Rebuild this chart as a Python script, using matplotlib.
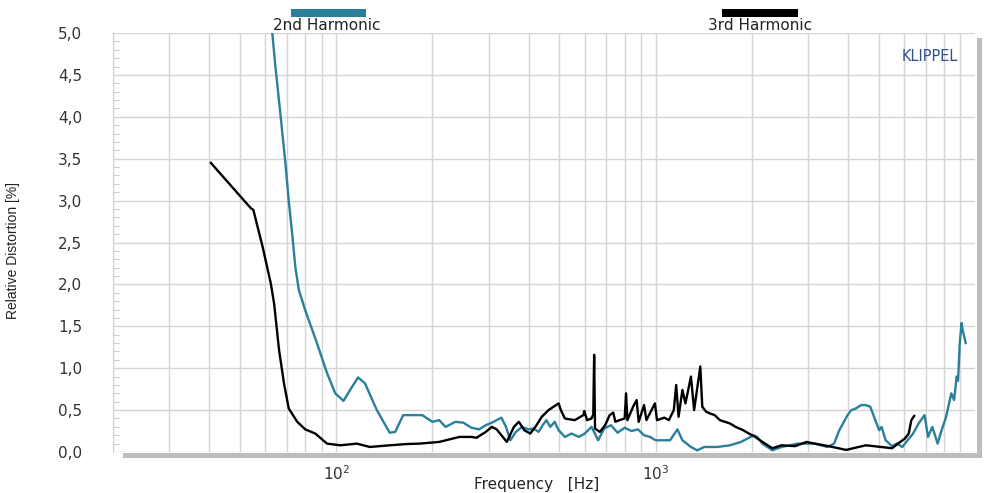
import matplotlib
matplotlib.use("Agg")
import matplotlib.pyplot as plt
from matplotlib.patches import Rectangle
from matplotlib.ticker import FixedLocator, FuncFormatter

# 2nd harmonic (teal) - frequency [Hz], relative distortion [%]
f2 = [62, 64.5, 67, 69.5, 71, 72.8, 74.5, 76.4, 80, 87, 93.6, 99.3, 105.4, 110.5, 117, 123,
      134, 147, 153, 162, 186, 200, 210, 220, 236, 250, 265, 280, 294, 307, 329, 340, 351,
      365, 382, 400, 415, 430, 443, 455, 468, 483, 497, 520, 545, 575, 600, 630, 661, 690,
      725, 760, 800, 840, 880, 920, 960, 1000, 1110, 1170, 1213, 1290, 1350, 1420, 1560,
      1710, 1850, 2030, 2080, 2160, 2320, 2480, 2780, 3150, 3450, 3620, 3760, 3990, 4100,
      4240, 4400, 4550, 4700, 4830, 5010, 5100, 5250, 5500, 5700, 5920, 6150, 6400, 6660,
      6950, 7130, 7350, 7640, 7800, 8120, 8430, 8600, 8760, 8850, 8960, 9080, 9150, 9250, 9350]
v2 = [5.3, 4.6, 4.0, 3.4, 3.0, 2.6, 2.2, 1.93, 1.69, 1.30, 0.94, 0.70, 0.61, 0.74, 0.89, 0.82,
      0.50, 0.23, 0.24, 0.44, 0.44, 0.36, 0.38, 0.30, 0.36, 0.35, 0.29, 0.27, 0.32, 0.35, 0.41,
      0.30, 0.14, 0.24, 0.30, 0.27, 0.28, 0.24, 0.32, 0.38, 0.30, 0.36, 0.26, 0.18, 0.22, 0.18,
      0.22, 0.30, 0.14, 0.28, 0.32, 0.23, 0.29, 0.25, 0.27, 0.20, 0.18, 0.14, 0.14, 0.27, 0.14,
      0.06, 0.02, 0.06, 0.06, 0.08, 0.12, 0.20, 0.18, 0.10, 0.02, 0.06, 0.10, 0.10, 0.06, 0.10,
      0.26, 0.44, 0.50, 0.52, 0.56, 0.56, 0.54, 0.42, 0.26, 0.30, 0.14, 0.07, 0.10, 0.06, 0.14,
      0.22, 0.34, 0.44, 0.18, 0.30, 0.10, 0.22, 0.42, 0.70, 0.62, 0.90, 0.85, 1.30, 1.54, 1.45,
      1.38, 1.30]

# 3rd harmonic (black)
f3 = [40.5, 54, 55, 58.8, 62.4, 63.9, 66.2, 68.6, 71, 75.5, 80, 86, 93.6, 103, 116, 127.5,
      147, 166, 182, 210, 243, 265, 275, 294, 307, 318, 342, 360, 373, 388, 405, 422, 440,
      462, 479, 497, 505, 520, 558, 594, 598, 610, 630, 638, 642, 646, 669, 695, 718, 737,
      748, 770, 800, 808, 816, 850, 872, 885, 920, 936, 995, 1010, 1065, 1100, 1140, 1160,
      1180, 1213, 1240, 1290, 1320, 1380, 1400, 1440, 1480, 1530, 1590, 1650, 1710, 1780,
      1880, 1960, 2050, 2160, 2320, 2480, 2730, 2970, 3150, 3480, 3950, 4550, 5080, 5500,
      5740, 6030, 6200, 6320, 6450]
v3 = [3.45, 2.91, 2.89, 2.45, 2.01, 1.77, 1.22, 0.82, 0.52, 0.36, 0.27, 0.22, 0.10, 0.08,
      0.10, 0.06, 0.08, 0.095, 0.10, 0.12, 0.18, 0.18, 0.17, 0.24, 0.30, 0.27, 0.12, 0.30,
      0.36, 0.26, 0.22, 0.31, 0.42, 0.50, 0.54, 0.58, 0.50, 0.40, 0.38, 0.44, 0.49, 0.38,
      0.40, 0.45, 1.16, 0.28, 0.24, 0.32, 0.44, 0.47, 0.36, 0.38, 0.40, 0.70, 0.38, 0.54,
      0.62, 0.36, 0.56, 0.38, 0.58, 0.38, 0.41, 0.38, 0.50, 0.80, 0.42, 0.74, 0.58, 0.90,
      0.50, 1.02, 0.54, 0.48, 0.46, 0.44, 0.38, 0.36, 0.34, 0.30, 0.26, 0.22, 0.18, 0.12,
      0.045, 0.08, 0.07, 0.12, 0.10, 0.07, 0.025, 0.08, 0.06, 0.045, 0.10, 0.16, 0.22,
      0.38, 0.43]

x_minor = [20, 30, 40, 50, 60, 70, 80, 90, 200, 300, 400, 500, 600, 700, 800, 900,
           2000, 3000, 4000, 5000, 6000, 7000, 8000, 9000]
x_major = [100, 1000]
x_labels = ["10$^2$", "10$^3$"]

teal = "#2a7f9b"
grid_c = "#d4d4d4"
shade = "#bdbdbd"

fig = plt.figure(figsize=(9.85, 4.93), dpi=100)
ax = fig.add_axes([113/985, 1-452/493, (975-113)/985, (452-33)/493])

ax.plot(f2, v2, color=teal, lw=1.7, zorder=3)
ax.plot(f3, v3, color="black", lw=1.7, zorder=4)

ax.set_xscale("log")
ax.set_xlim(20, 10000)
ax.set_ylim(0, 5)

ax.xaxis.set_major_locator(FixedLocator(x_major))
ax.xaxis.set_minor_locator(FixedLocator(x_minor))
ax.set_xticklabels(x_labels)
ax.xaxis.set_minor_formatter(FuncFormatter(lambda v, p: ""))
ax.tick_params(axis="x", which="both", length=0, pad=9, labelsize=11, labelcolor="#333333")

ax.set_yticks([i * 0.5 for i in range(11)])
ax.yaxis.set_major_formatter(FuncFormatter(lambda v, p: f"{v:.1f}".replace(".", ",")))
ax.yaxis.set_minor_locator(FixedLocator([i * 0.1 for i in range(51)]))
ax.tick_params(axis="y", which="major", length=0, pad=22, labelsize=11, labelcolor="#333333")
ax.tick_params(axis="y", which="minor", direction="in", length=4, color="#cccccc", width=0.8)

ax.grid(True, which="major", color=grid_c, lw=1)
ax.grid(True, which="minor", axis="x", color=grid_c, lw=1)
ax.set_axisbelow(True)

for s in ["top", "right", "bottom"]:
    ax.spines[s].set_visible(False)
ax.spines["left"].set_color("#d0d0d0")

# shadow frame at bottom and right
fig.add_artist(Rectangle((123/985, 1-458/493), (982-123)/985, 5/493,
                         transform=fig.transFigure, color=shade, lw=0))
fig.add_artist(Rectangle((977/985, 1-458/493), 5/985, (458-38)/493,
                         transform=fig.transFigure, color=shade, lw=0))

fig.text(537/985, 1-484/493, "Frequency   [Hz]", ha="center", va="center",
         fontsize=11, color="#222222")
ax.set_ylabel("Relative Distortion [%]", fontsize=10,
              family=["Liberation Sans Narrow", "Liberation Sans"], color="#222222")
ax.yaxis.set_label_coords(-0.108, 0.48)

# legend at the top
fig.add_artist(Rectangle((291/985, 1-17/493), 75/985, 8/493,
                         transform=fig.transFigure, color=teal, lw=0))
fig.add_artist(Rectangle((722/985, 1-17/493), 76/985, 8/493,
                         transform=fig.transFigure, color="black", lw=0))
fig.text(327/985, 1-26/493, "2nd Harmonic", ha="center", va="center", fontsize=11,
         color="#222222")
fig.text(760/985, 1-26/493, "3rd Harmonic", ha="center", va="center", fontsize=11,
         color="#222222")

ax.text(0.98, 0.945, "KLIPPEL", transform=ax.transAxes, ha="right", va="center",
        fontsize=10.5, color="#2d4f8e")

fig.savefig("out.png", dpi=100)
